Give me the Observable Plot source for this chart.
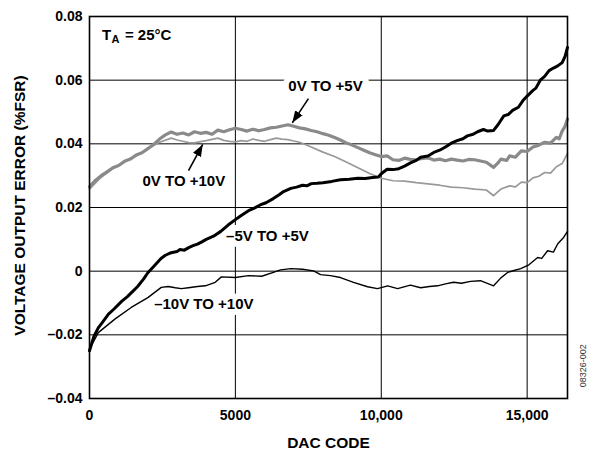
<!DOCTYPE html>
<html><head><meta charset="utf-8">
<script src="https://cdn.jsdelivr.net/npm/d3@7"></script>
<script src="https://cdn.jsdelivr.net/npm/@observablehq/plot@0.6"></script>
<style>
html,body{margin:0;padding:0;background:#fff}
#chart{font-family:"Liberation Sans",Arial,sans-serif}
</style>
</head><body><div id="chart"></div>
<script>
// 0V TO +5V (thick gray)
const codeA = [0,200,400,600,800,1000,1200,1400,1600,1800,2000,2200,2400,2600,2800,3000,3200,3400,3600,3800,4000,4200,4400,4600,4800,5000,5200,5400,5600,5800,6000,6200,6400,6600,6800,7000,7200,7400,7600,7800,8000,8200,8400,8600,8800,9000,9200,9400,9600,9800,10000,10200,10400,10600,10800,11000,11200,11400,11600,11800,12000,12200,12400,12600,12800,13000,13200,13400,13600,13850,14000,14100,14300,14400,14600,14800,15000,15200,15400,15600,15800,16000,16100,16200,16300,16383];
const errA  = [0.0265,0.0285,0.0300,0.0312,0.0325,0.0332,0.0345,0.0352,0.0365,0.0372,0.0385,0.0398,0.0415,0.0428,0.0437,0.0430,0.0434,0.0428,0.0438,0.0433,0.0436,0.0430,0.0443,0.0438,0.0444,0.0449,0.0445,0.0440,0.0446,0.0441,0.0445,0.0450,0.0452,0.0456,0.0460,0.0455,0.0450,0.0447,0.0442,0.0438,0.0432,0.0427,0.0420,0.0412,0.0403,0.0396,0.0388,0.0380,0.0372,0.0366,0.0360,0.0362,0.0350,0.0348,0.0355,0.0351,0.0350,0.0354,0.0356,0.0349,0.0352,0.0347,0.0352,0.0349,0.0346,0.0351,0.0350,0.0346,0.0342,0.0326,0.0340,0.0352,0.0348,0.0362,0.0358,0.0378,0.0376,0.0390,0.0396,0.0405,0.0402,0.0420,0.0416,0.0440,0.0455,0.0478];
// 0V TO +10V (thin gray)
const codeB = [0,400,800,1200,1600,2000,2400,2800,3000,3200,3400,3600,3800,4000,4200,4400,4600,4800,5000,5200,5400,5600,5800,6000,6200,6400,6600,6800,7000,7200,7600,8000,8400,8800,9200,9600,10000,10400,10800,11200,11600,12000,12400,12800,13200,13600,13850,14100,14400,14600,14800,15000,15200,15400,15600,15800,16000,16200,16383];
const errB  = [0.0258,0.0295,0.0322,0.0345,0.0362,0.0385,0.0405,0.0418,0.0412,0.0408,0.0404,0.0403,0.0407,0.0410,0.0414,0.0418,0.0411,0.0408,0.0406,0.0410,0.0408,0.0415,0.0411,0.0408,0.0413,0.0418,0.0415,0.0413,0.0409,0.0405,0.0390,0.0374,0.0360,0.0343,0.0325,0.0307,0.0292,0.0284,0.0283,0.0278,0.0274,0.0270,0.0264,0.0262,0.0258,0.0255,0.0237,0.0258,0.0268,0.0265,0.0280,0.0278,0.0293,0.0298,0.0310,0.0308,0.0328,0.0338,0.0370];
// –5V TO +5V (thick black)
const codeC = [0,150,300,450,650,850,1100,1300,1500,1650,1850,2000,2200,2450,2600,2800,3000,3100,3250,3400,3550,3700,3850,4000,4250,4500,4750,5000,5200,5450,5650,5850,6050,6300,6500,6650,6900,7100,7300,7450,7600,7800,8000,8300,8600,8900,9200,9450,9700,9900,10000,10200,10400,10600,10800,11000,11200,11350,11600,11800,12000,12200,12400,12600,12800,12950,13150,13300,13500,13650,13850,14000,14200,14350,14500,14700,14850,15000,15200,15300,15450,15600,15750,15900,16050,16200,16300,16383];
const errC  = [-0.0250,-0.0205,-0.0178,-0.0160,-0.0135,-0.0118,-0.0095,-0.0080,-0.0062,-0.0048,-0.0025,-0.0005,0.0015,0.0040,0.0050,0.0058,0.0062,0.0068,0.0066,0.0074,0.0080,0.0085,0.0092,0.0100,0.0110,0.0125,0.0145,0.0162,0.0175,0.0190,0.0198,0.0208,0.0215,0.0228,0.0240,0.0250,0.0260,0.0264,0.0270,0.0268,0.0275,0.0276,0.0278,0.0282,0.0287,0.0289,0.0292,0.0291,0.0294,0.0296,0.0306,0.0320,0.0319,0.0322,0.0330,0.0340,0.0348,0.0358,0.0362,0.0373,0.0380,0.0390,0.0402,0.0410,0.0416,0.0425,0.0430,0.0438,0.0445,0.0440,0.0442,0.0460,0.0488,0.0492,0.0505,0.0515,0.0535,0.0550,0.0568,0.0575,0.0600,0.0612,0.0630,0.0638,0.0645,0.0655,0.0675,0.0703];
// –10V TO +10V (thin black)
const codeD = [0,300,880,1430,2000,2460,2700,2940,3150,3390,3700,3970,4310,4520,5000,5450,5900,6300,6550,6900,7300,7680,7920,8260,8600,9050,9530,9870,10220,10560,11000,11350,11650,11930,12200,12480,12750,13060,13400,13850,14100,14330,14550,14780,15060,15360,15500,15700,15900,16050,16250,16383];
const errD  = [-0.0245,-0.0193,-0.0150,-0.0114,-0.0083,-0.0051,-0.0048,-0.0052,-0.0055,-0.0052,-0.0048,-0.0046,-0.0035,-0.0018,-0.0020,-0.0014,-0.0016,-0.0004,0.0004,0.0008,0.0006,0.0001,-0.0011,-0.0014,-0.0020,-0.0035,-0.0049,-0.0055,-0.0046,-0.0055,-0.0044,-0.0052,-0.0048,-0.0046,-0.0040,-0.0035,-0.0038,-0.0032,-0.0030,-0.0046,-0.0021,-0.0004,0.0002,0.0008,0.0020,0.0043,0.0040,0.0064,0.0060,0.0086,0.0106,0.0125];

const xTicks = [0, 5000, 10000, 15000];
const xTickLabels = ["0", "5000", "10,000", "15,000"];
const yTicks = [-0.04, -0.02, 0, 0.02, 0.04, 0.06, 0.08];
const yTickLabels = ["–0.04", "–0.02", "0", "0.02", "0.04", "0.06", "0.08"];

const seriesLabels = ["0V TO +5V", "0V TO +10V", "–5V TO +5V", "–10V TO +10V"];
const seriesLabelX = [8090, 3233, 6098, 3919];
const seriesLabelY = [0.058, 0.0284, 0.0111, -0.0103];
const arrowX1 = [7505, 3394];
const arrowY1 = [0.0542, 0.0316];
const arrowX2 = [6950, 3880];
const arrowY2 = [0.0466, 0.0398];

const xLabel = "DAC CODE";
const yLabel = "VOLTAGE OUTPUT ERROR (%FSR)";
const condition = ["T", "A", "= 25°C"];
const conditionX = 425, conditionY = 0.0742;
const figureId = "08326-002";

const zip = (c, e) => c.map((code, i) => ({code, err: e[i]}));
const rowsA = zip(codeA, errA), rowsB = zip(codeB, errB), rowsC = zip(codeC, errC), rowsD = zip(codeD, errD);
const labelRows = seriesLabels.map((t, i) => ({t, x: seriesLabelX[i], y: seriesLabelY[i]}));
const arrowRows = arrowX1.map((x1, i) => ({x1, y1: arrowY1[i], x2: arrowX2[i], y2: arrowY2[i]}));

function filledArrow(color) {
  const m = d3.create("svg:marker")
    .attr("viewBox", "-12 -6 12 12")
    .attr("markerWidth", 12).attr("markerHeight", 12)
    .attr("markerUnits", "userSpaceOnUse")
    .attr("orient", "auto")
    .attr("fill", color).attr("stroke", "none");
  m.append("path").attr("d", "M-12,-4.5L0,0L-12,4.5Z");
  return m.node();
}

const font = "Liberation Sans, Arial, Helvetica, sans-serif";
const chart = Plot.plot({
  width: 596, height: 451,
  marginLeft: 89, marginRight: 29, marginTop: 16, marginBottom: 53,
  style: {fontFamily: font, fontSize: "14px", fontWeight: "bold", background: "white", color: "black"},
  x: {domain: [0, 16383]},
  y: {domain: [-0.04, 0.08]},
  marks: [
    Plot.gridX(xTicks, {stroke: "black", strokeOpacity: 1, strokeWidth: 1}),
    Plot.gridY(yTicks, {stroke: "black", strokeOpacity: 1, strokeWidth: 1}),
    Plot.text(labelRows, {x: "x", y: "y", text: "t", fill: "black", stroke: "white", strokeWidth: 12, fontSize: 15, fontWeight: "bold"}),
    Plot.line(rowsD, {x: "code", y: "err", stroke: "black", strokeWidth: 1.4}),
    Plot.line(rowsB, {x: "code", y: "err", stroke: "#999999", strokeWidth: 1.7}),
    Plot.line(rowsA, {x: "code", y: "err", stroke: "#8a8a8a", strokeWidth: 3.2}),
    Plot.line(rowsC, {x: "code", y: "err", stroke: "black", strokeWidth: 3}),
    Plot.link(arrowRows, {x1: "x1", y1: "y1", x2: "x2", y2: "y2", stroke: "black", strokeWidth: 1.6, markerEnd: filledArrow}),
    Plot.frame({stroke: "black", strokeWidth: 1.6}),
    Plot.axisX(xTicks, {tickSize: 0, tickPadding: 12, tickFormat: d => xTickLabels[xTicks.indexOf(d)], fontSize: 14, fontWeight: "bold", label: null}),
    Plot.axisY(yTicks, {tickSize: 0, tickPadding: 7, tickFormat: d => yTickLabels[yTicks.indexOf(d)], fontSize: 14, fontWeight: "bold", label: null}),
    Plot.text([xLabel], {frameAnchor: "bottom", dy: 45, textAnchor: "middle", lineAnchor: "middle", fontSize: 15.5, fontWeight: "bold", fill: "black"}),
    Plot.text([yLabel], {frameAnchor: "left", dx: -69, dy: -2, textAnchor: "middle", lineAnchor: "middle", rotate: -90, fontSize: 15.5, fontWeight: "bold", fill: "black"}),
    Plot.text([condition[0]], {x: () => conditionX, y: () => conditionY, textAnchor: "start", fontSize: 15, fontWeight: "bold", fill: "black"}),
    Plot.text([condition[1]], {x: () => conditionX, y: () => conditionY, textAnchor: "start", dx: 9.5, dy: 5, fontSize: 11, fontWeight: "bold", fill: "black"}),
    Plot.text([condition[2]], {x: () => conditionX, y: () => conditionY, textAnchor: "start", dx: 23, fontSize: 15, fontWeight: "bold", fill: "black"}),
    Plot.text([figureId], {x: () => 16383, y: () => -0.0297, dx: 16, rotate: -90, fontSize: 9, fontWeight: "normal", fill: "#333"})
  ]
});
document.getElementById("chart").appendChild(chart);
</script>
</body></html>
